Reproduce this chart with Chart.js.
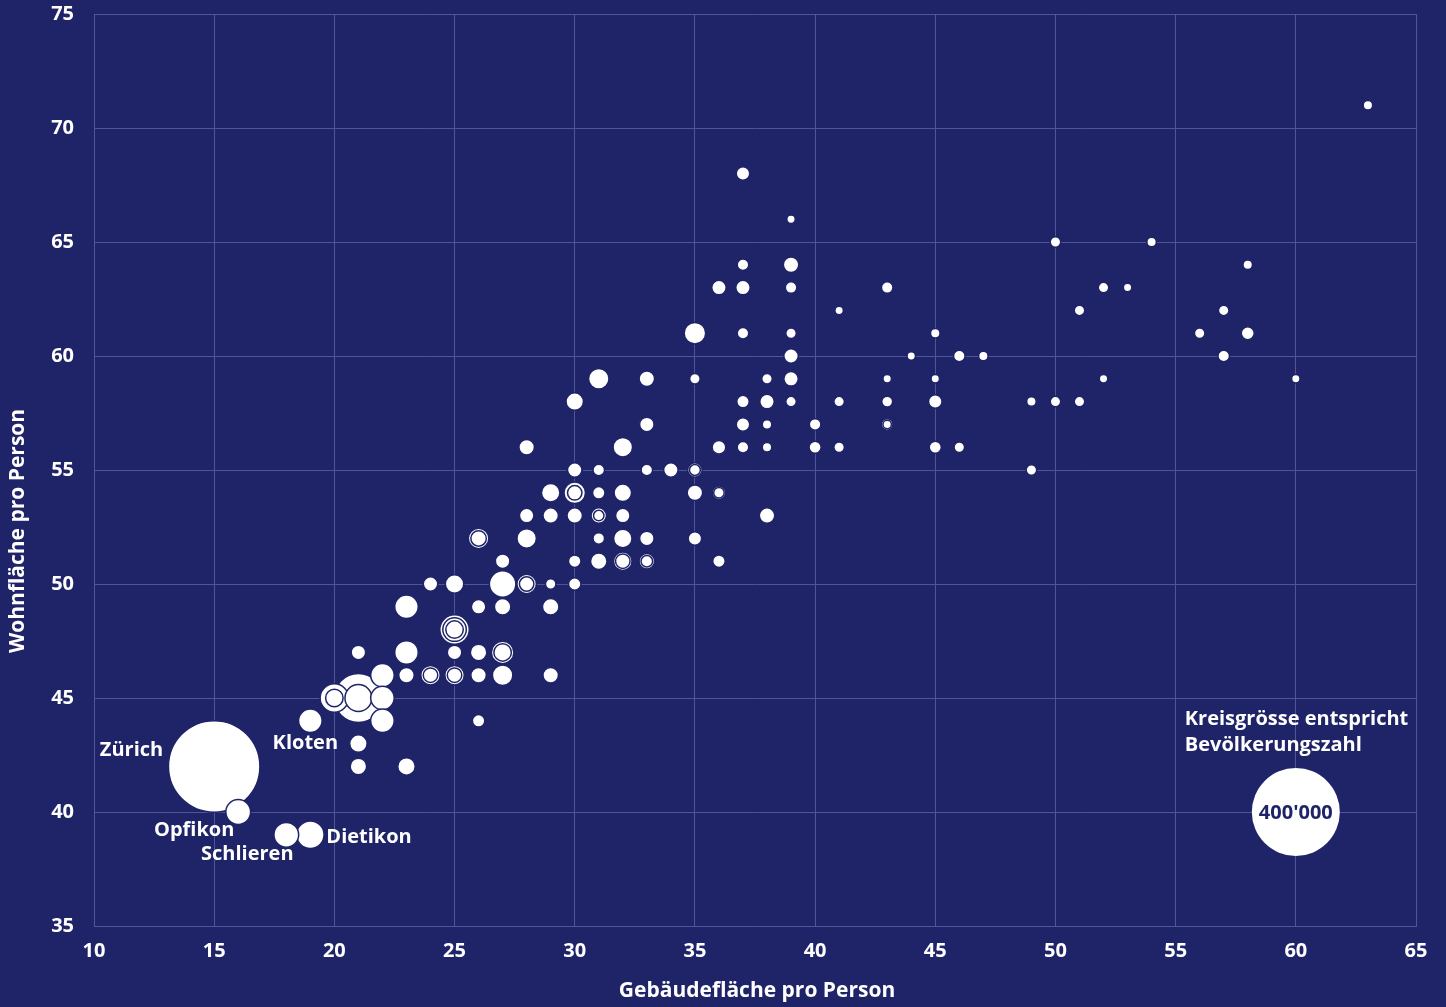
<!DOCTYPE html>
<html lang="de">
<head>
<meta charset="utf-8">
<title>Wohnfläche und Gebäudefläche pro Person</title>
<script src="https://cdn.jsdelivr.net/npm/chart.js@4.4.0/dist/chart.umd.min.js"></script>
<style>
  html, body { margin: 0; padding: 0; background: #1f2468; }
  #wrap { width: 1446px; height: 1007px; }
</style>
</head>
<body>
<div id="wrap"><canvas id="bubbleChart"></canvas></div>
<script>
// Gemeinden: Gebäudefläche (x), Wohnfläche (y), Einwohner (Kreisgrösse)
// first five are the labelled ones
const gebaeudeflaeche = [
  15, 19, 16, 18, 19,
  63,
  37,
  39,
  50, 54,
  37, 39, 58,
  36, 37, 39, 43, 52, 53,
  41, 51, 57,
  35, 37, 39, 45, 56, 58,
  39, 44, 46, 47, 57,
  31, 33, 35, 38, 39, 43, 45, 52, 60,
  30, 37, 38, 39, 41, 43, 45, 49, 50, 51,
  33, 37, 38, 40, 43, 43,
  28, 32, 36, 36, 37, 38, 40, 41, 45, 46,
  30, 30, 31, 33, 34, 35, 35, 49,
  29, 30, 30, 31, 32, 35, 36, 36,
  28, 29, 30, 31, 31, 32, 38,
  26, 26, 28, 31, 32, 33, 35,
  27, 30, 31, 32, 32, 33, 33, 36,
  24, 25, 27, 28, 28, 29, 30,
  23, 26, 27, 29,
  25, 25, 25,
  21, 23, 25, 26, 27, 27,
  22, 23, 24, 24, 25, 25, 26, 27, 29,
  20, 20, 21, 21, 22,
  22, 26,
  21,
  21, 23
];
const wohnflaeche = [
  42, 44, 40, 39, 39,
  71,
  68,
  66,
  65, 65,
  64, 64, 64,
  63, 63, 63, 63, 63, 63,
  62, 62, 62,
  61, 61, 61, 61, 61, 61,
  60, 60, 60, 60, 60,
  59, 59, 59, 59, 59, 59, 59, 59, 59,
  58, 58, 58, 58, 58, 58, 58, 58, 58, 58,
  57, 57, 57, 57, 57, 57,
  56, 56, 56, 56, 56, 56, 56, 56, 56, 56,
  55, 55, 55, 55, 55, 55, 55, 55,
  54, 54, 54, 54, 54, 54, 54, 54,
  53, 53, 53, 53, 53, 53, 53,
  52, 52, 52, 52, 52, 52, 52,
  51, 51, 51, 51, 51, 51, 51, 51,
  50, 50, 50, 50, 50, 50, 50,
  49, 49, 49, 49,
  48, 48, 48,
  47, 47, 47, 47, 47, 47,
  46, 46, 46, 46, 46, 46, 46, 46, 46,
  45, 45, 45, 45, 45,
  44, 44,
  43,
  42, 42
];
const einwohner = [
  418000, 25000, 28000, 28000, 34900,
  3300,
  7400,
  2500,
  4200, 3300,
  5200, 10100, 3300,
  8700, 8700, 5200, 5200, 4200, 2500,
  2500, 4200, 4200,
  20700, 5200, 4200, 3300, 4200, 6800,
  8700, 2500, 5200, 3300, 5200,
  18600, 10100, 4200, 4200, 8700, 2500, 2500, 2500, 2500,
  13200, 6200, 8700, 4200, 4200, 4600, 7400, 3300, 4200, 4200,
  8700, 7400, 3300, 5200, 5200, 2500,
  10100, 16700, 10100, 7600, 5200, 3300, 5800, 4200, 5800, 4200,
  10100, 8600, 5200, 5200, 8700, 8700, 4600, 4200,
  14900, 20700, 8700, 6200, 13200, 10100, 7400, 4200,
  8700, 10100, 10100, 10100, 4200, 8700, 10100,
  18600, 10100, 16700, 5200, 14900, 8700, 7400,
  8700, 6200, 11600, 14900, 8700, 10100, 5200, 6200,
  8700, 14900, 32300, 16700, 8700, 4200, 6200,
  25000, 8700, 11600, 11600,
  40500, 25000, 13200,
  8700, 25000, 8700, 11600, 22800, 13200,
  25000, 10100, 16700, 8700, 16700, 8700, 10100, 18600, 10100,
  37600, 13200, 116000, 33300, 25000,
  25000, 6200,
  13200,
  11600, 13200
];

const labelNames = ['Zürich', 'Kloten', 'Opfikon', 'Schlieren', 'Dietikon'];
const labelIdx = [0, 1, 2, 3, 4];
const legendValue = 400000;

const navy = '#1f2468';
const gridColor = '#4f5597';
const fontFamily = '"Open Sans", "Noto Sans", sans-serif';
const borderW = 1.5;

// area-proportional circles, 400'000 -> 44px
function radiusFor(pop) {
  return 44 * Math.sqrt(pop / 400000);
}

// bigger circles first so small ones stay visible on top
// (+ half the border so the white part keeps the intended size)
const points = einwohner.map((pop, i) => ({ x: gebaeudeflaeche[i], y: wohnflaeche[i], r: radiusFor(pop) + borderW / 2, idx: i }))
  .sort((a, b) => b.r - a.r);

// label placement relative to the circle centre
const labelPos = [
  { dx: -51, dy: -16, align: 'right' },
  { dx: -5, dy: 22, align: 'center' },
  { dx: -44, dy: 18, align: 'center' },
  { dx: -39, dy: 19, align: 'center' },
  { dx: 16, dy: 2, align: 'left' }
];

// don't let the big Zürich bubble push the plot area inwards
Chart.BubbleController.prototype.getMaxOverflow = function () { return false; };

const extrasPlugin = {
  id: 'extras',
  afterDatasetsDraw(chart) {
    const ctx = chart.ctx;
    const xs = chart.scales.x, ys = chart.scales.y;
    const area = chart.chartArea;
    ctx.save();
    ctx.fillStyle = '#ffffff';
    ctx.font = 'bold 20px ' + fontFamily;
    ctx.textBaseline = 'middle';

    // Gemeinde labels
    labelNames.forEach((name, k) => {
      const i = labelIdx[k];
      const px = xs.getPixelForValue(gebaeudeflaeche[i]);
      const py = ys.getPixelForValue(wohnflaeche[i]);
      ctx.textAlign = labelPos[k].align;
      ctx.fillText(name, px + labelPos[k].dx, py + labelPos[k].dy);
    });

    // size legend
    const lx = xs.getPixelForValue(60), ly = ys.getPixelForValue(40);
    ctx.textAlign = 'left';
    ctx.fillText('Kreisgrösse entspricht', lx - 111, ly - 93);
    ctx.fillText('Bevölkerungszahl', lx - 111, ly - 67);
    ctx.beginPath();
    ctx.arc(lx, ly, radiusFor(legendValue), 0, Math.PI * 2);
    ctx.fill();
    ctx.fillStyle = navy;
    ctx.textAlign = 'center';
    ctx.fillText("400'000", lx, ly + 1);

    // axis titles
    ctx.fillStyle = '#ffffff';
    ctx.font = 'bold 21px ' + fontFamily;
    ctx.fillText('Gebäudefläche pro Person', (area.left + area.right) / 2 + 2, 991);
    ctx.translate(18, 531);
    ctx.rotate(-Math.PI / 2);
    ctx.fillText('Wohnfläche pro Person', 0, 0);
    ctx.restore();
  }
};

const ctx = document.getElementById('bubbleChart').getContext('2d');
new Chart(ctx, {
  type: 'bubble',
  data: {
    datasets: [{
      data: points,
      backgroundColor: '#ffffff',
      borderColor: navy,
      borderWidth: borderW,
      hoverRadius: 0
    }]
  },
  options: {
    responsive: true,
    maintainAspectRatio: false,
    animation: false,
    events: [],
    layout: { padding: { top: 14, right: 30, left: 0, bottom: 0 } },
    plugins: {
      legend: { display: false },
      tooltip: { enabled: false }
    },
    scales: {
      x: {
        type: 'linear',
        min: 10, max: 65,
        afterFit: s => { s.height = 81; s.paddingLeft = 0; s.paddingRight = 0; },
        ticks: { stepSize: 5, color: '#ffffff', padding: 13, font: { family: fontFamily, size: 20, weight: 'bold' } },
        grid: { color: gridColor, drawTicks: false },
        border: { color: gridColor }
      },
      y: {
        type: 'linear',
        min: 35, max: 75,
        afterFit: s => { s.width = 94; s.paddingTop = 0; s.paddingBottom = 0; },
        ticks: { stepSize: 5, color: '#ffffff', padding: 20, font: { family: fontFamily, size: 20, weight: 'bold' } },
        grid: { color: gridColor, drawTicks: false },
        border: { color: gridColor }
      }
    }
  },
  plugins: [extrasPlugin]
});
</script>
</body>
</html>
